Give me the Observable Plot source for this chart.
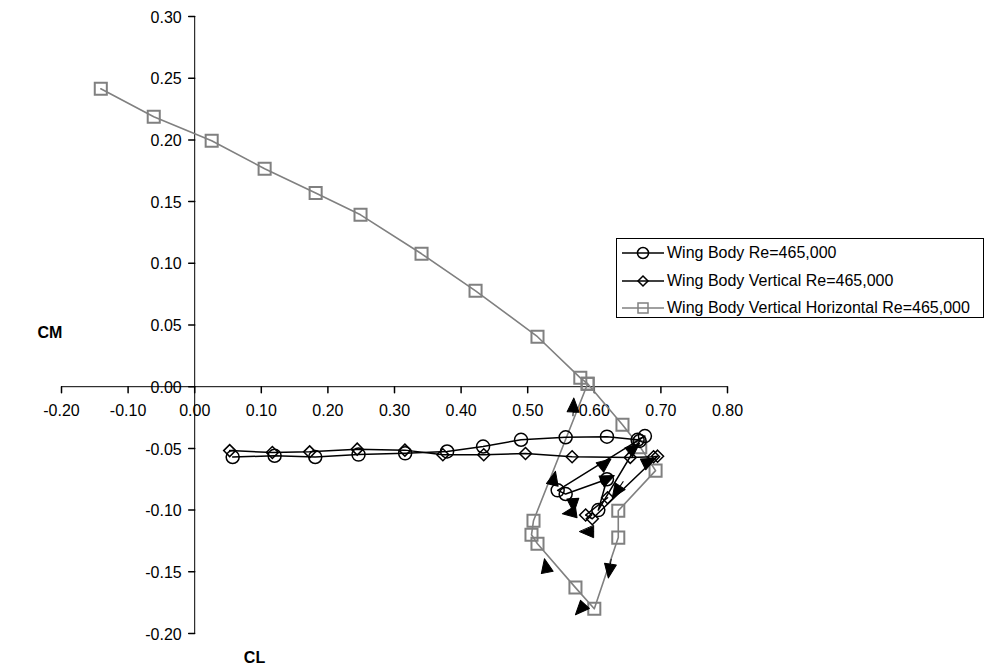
<!DOCTYPE html>
<html><head><meta charset="utf-8">
<script src="https://cdn.jsdelivr.net/npm/d3@7"></script>
<script src="https://cdn.jsdelivr.net/npm/@observablehq/plot@0.6"></script>
<style>
body{margin:0;background:#fff;font-family:"Liberation Sans",Arial,sans-serif;}
#wrap{position:relative;width:985px;height:669px;overflow:hidden;}
#legend{position:absolute;left:616px;top:238px;width:368px;height:80px;border:1px solid #000;background:#fff;box-sizing:border-box;font-size:16px;color:#000;}
#legend .row{position:absolute;left:4px;height:20px;display:flex;align-items:center;white-space:nowrap;}
#legend svg{display:block;margin-right:2px;}
</style></head><body><div id="wrap"></div>
<script>
// ---- data ----
const wbCL = [0.057,0.120,0.181,0.246,0.316,0.379,0.433,0.490,0.557,0.619,0.665,0.676,0.545,0.557,0.619,0.606,0.668];
const wbCM = [-0.057,-0.056,-0.057,-0.055,-0.054,-0.0525,-0.0485,-0.043,-0.041,-0.0405,-0.043,-0.040,-0.084,-0.087,-0.075,-0.100,-0.044];

const wbvCL = [0.0525,0.1166,0.1726,0.244,0.3156,0.3726,0.434,0.4967,0.5667,0.654,0.689,0.695,0.597,0.587,0.620];
const wbvCM = [-0.0518,-0.0533,-0.0528,-0.0506,-0.0514,-0.0552,-0.0552,-0.0541,-0.0568,-0.0573,-0.0568,-0.0563,-0.107,-0.104,-0.090];

const wbvhCL = [-0.141,-0.0615,0.0255,0.105,0.1816,0.249,0.3406,0.4217,0.5147,0.579,0.590,0.6423,0.669,0.692,0.636,0.636,0.600,0.5717,0.5147,0.5057,0.5087,0.590];
const wbvhCM = [0.2414,0.2187,0.1993,0.1766,0.157,0.1393,0.1077,0.0777,0.0405,0.0072,0.0024,-0.0308,-0.049,-0.068,-0.1005,-0.1223,-0.180,-0.1628,-0.1273,-0.120,-0.1086,0.0024];

const seriesNames = ["Wing Body Re=465,000","Wing Body Vertical Re=465,000","Wing Body Vertical Horizontal Re=465,000"];

// direction arrows (tail -> tip)
const arrX1 = [0.5668,0.5342,0.602,0.657,0.567,0.5837,0.609,0.629,0.5312,0.5897,0.598,0.636,0.662];
const arrY1 = [-0.0357,-0.0859,-0.0790,-0.066,-0.0845,-0.1005,-0.1175,-0.1272,-0.1556,-0.1742,-0.0700,-0.0600,-0.0660];
const arrX2 = [0.5693,0.5417,0.630,0.627,0.5693,0.552,0.578,0.621,0.5252,0.5717,0.625,0.668,0.692];
const arrY2 = [-0.0092,-0.0685,-0.0720,-0.090,-0.1020,-0.1030,-0.1175,-0.1550,-0.1394,-0.1848,-0.0585,-0.0460,-0.0580];

const xTicks = [-0.2,-0.1,0,0.1,0.2,0.3,0.4,0.5,0.6,0.7,0.8];
const xTickLabels = ["-0.20","-0.10","0.00","0.10","0.20","0.30","0.40","0.50","0.60","0.70","0.80"];
const yTicks = [-0.2,-0.15,-0.1,-0.05,0,0.05,0.1,0.15,0.2,0.25,0.3];
const yTickLabels = ["-0.20","-0.15","-0.10","-0.05","0.00","0.05","0.10","0.15","0.20","0.25","0.30"];

// ---- layout ----
const W = 985, H = 669, mL = 61, mR = 258, mT = 16, mB = 36;
const xDom = [-0.2, 0.8], yDom = [-0.2, 0.3];
const kx = (W - mL - mR) / (xDom[1] - xDom[0]);
const ky = (H - mT - mB) / (yDom[1] - yDom[0]);

const toRows = (xs, ys) => xs.map((x, i) => ({x, y: ys[i]}));
const wb = toRows(wbCL, wbCM), wbv = toRows(wbvCL, wbvCM), wbvh = toRows(wbvhCL, wbvhCM);
const arrows = arrX1.map((x1, i) => {
  const sx = (arrX2[i] - x1) * kx, sy = (arrY2[i] - arrY1[i]) * ky;
  return {x: arrX2[i], y: arrY2[i], len: Math.hypot(sx, sy), rot: Math.atan2(sx, sy) * 180 / Math.PI};
});

const tickShape = {draw(c, l) { c.moveTo(0, 0); c.lineTo(0, -l); }};
const arrowShape = {draw(c, l) {
  const h = 14, w = 6;
  c.moveTo(0, 0); c.lineTo(0, -l + h);
  c.moveTo(0, -l); c.lineTo(-w, -l + h); c.lineTo(w, -l + h); c.closePath();
}};

const font = "Liberation Sans, Arial, sans-serif";
const gray = "#808080";

const chart = Plot.plot({
  width: W, height: H,
  marginLeft: mL, marginRight: mR, marginTop: mT, marginBottom: mB,
  x: {domain: xDom, axis: null},
  y: {domain: yDom, axis: null},
  style: {fontFamily: font, fontSize: "16px", background: "#fff", overflow: "visible"},
  marks: [
    Plot.ruleY([0], {stroke: "#000", strokeWidth: 1}),
    Plot.ruleX([0], {stroke: "#000", strokeWidth: 1}),
    Plot.vector(xTicks, {x: d => d, y: 0, length: 6, rotate: 180, anchor: "start", shape: tickShape, stroke: "#000"}),
    Plot.vector(yTicks, {x: 0, y: d => d, length: 6, rotate: 270, anchor: "start", shape: tickShape, stroke: "#000"}),
    Plot.text(xTicks, {x: d => d, y: 0, text: (d, i) => xTickLabels[i], dy: 24, fill: "#000", fontSize: 16}),
    Plot.text(yTicks, {x: 0, y: d => d, text: (d, i) => yTickLabels[i], dx: -13, dy: 1, textAnchor: "end", fill: "#000", fontSize: 16}),
    Plot.text(["CM"], {frameAnchor: "left", dx: -24, dy: 8, fontWeight: "bold", fill: "#000", fontSize: 16}),
    Plot.text(["CL"], {frameAnchor: "bottom", dx: -140, dy: 29, fontWeight: "bold", fill: "#000", fontSize: 16}),
    Plot.line(wbvh, {x: "x", y: "y", stroke: gray, strokeWidth: 1.6}),
    Plot.dot(wbvh, {x: "x", y: "y", symbol: "square", r: 6.8, stroke: gray, strokeWidth: 2, fill: "none"}),
    Plot.line(wbv, {x: "x", y: "y", stroke: "#000", strokeWidth: 1.5}),
    Plot.dot(wbv, {x: "x", y: "y", symbol: "diamond2", r: 5.4, stroke: "#000", strokeWidth: 1.5, fill: "none"}),
    Plot.line(wb, {x: "x", y: "y", stroke: "#000", strokeWidth: 1.5}),
    Plot.dot(wb, {x: "x", y: "y", r: 6.5, stroke: "#000", strokeWidth: 1.5, fill: "none"}),
    Plot.vector(arrows, {x: "x", y: "y", length: "len", rotate: "rot", anchor: "end", shape: arrowShape, stroke: "#000", fill: "#000", strokeWidth: 1})
  ]
});
const wrap = document.getElementById("wrap");
wrap.appendChild(chart);

// legend
const legend = document.createElement("div");
legend.id = "legend";
const sym = [
  `<circle cx="22" cy="10" r="5.5" fill="none" stroke="#000" stroke-width="1.5"/>`,
  `<path d="M22,5 L27,10 L22,15 L17,10 Z" fill="none" stroke="#000" stroke-width="1.5"/>`,
  `<rect x="17" y="5" width="10" height="10" fill="none" stroke="${gray}" stroke-width="1.5"/>`
];
const lineCol = ["#000", "#000", gray];
const tops = [4, 32, 59];
seriesNames.forEach((name, i) => {
  const row = document.createElement("div");
  row.className = "row";
  row.style.top = tops[i] + "px";
  row.innerHTML = `<svg width="44" height="20"><line x1="1" y1="10" x2="43" y2="10" stroke="${lineCol[i]}" stroke-width="1.5"/>${sym[i]}</svg><span>${name}</span>`;
  legend.appendChild(row);
});
wrap.appendChild(legend);
</script>
</body></html>
